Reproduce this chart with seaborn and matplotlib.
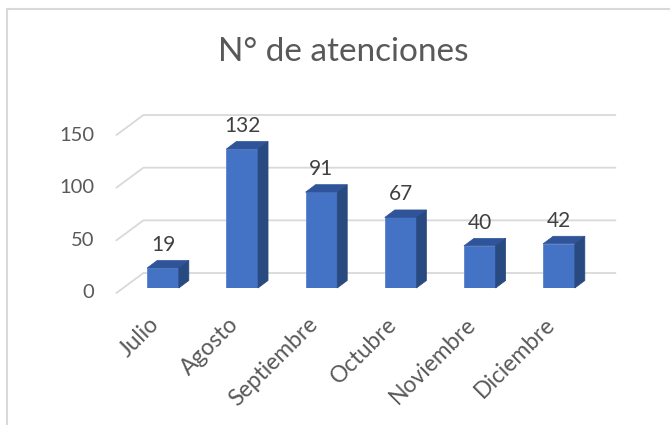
import numpy as np
import pandas as pd
import seaborn as sns
import matplotlib.pyplot as plt
from matplotlib.patches import Polygon, Rectangle

meses = ['Julio', 'Agosto', 'Septiembre', 'Octubre', 'Noviembre', 'Diciembre']
atenciones = [19, 132, 91, 67, 40, 42]
ticks_y = [0, 50, 100, 150]
titulo = 'N° de atenciones'

df = pd.DataFrame({'mes': meses, 'atenciones': atenciones})

sns.set_style('white')
plt.rcParams['font.family'] = ['Lato', 'DejaVu Sans']

fig = plt.figure(figsize=(6.7, 4.25), dpi=100)
ax = fig.add_axes([123.4 / 670, (425 - 288) / 425, 475.2 / 670, 168.5 / 425])

frente = '#4472C4'
techo = '#30549A'
lado = '#294A80'
gris = '#595959'

sns.barplot(data=df, x='mes', y='atenciones', color=frente, width=0.40,
            saturation=1, ax=ax, zorder=3, edgecolor='#5B84CC', linewidth=0.6)
ax.set_xlim(-0.5, 5.5)
ax.set_ylim(0, 160)
ax.axis('off')

# pixels -> data units
bb = ax.get_window_extent()
ppx = bb.width / 6.0
ppy = bb.height / 160.0

def off(dx, dy):
    return dx / ppx, dy / ppy

# wall / floor geometry (pixel offsets from bar front plane)
fx, fy = off(-7, -5)
bx, by = off(20, 15)
x_izq = -0.5
x_der = 5.46

for v in ticks_y:
    ax.plot([x_izq + fx, x_izq + bx, x_der + bx], [v + fy, v + by, v + by],
            color='#D9D9D9', lw=1.3, zorder=1, clip_on=False)
    ax.text(x_izq + fx - 22 / ppx, v + fy, str(v), ha='right', va='center',
            fontsize=14.5, color=gris, clip_on=False)

# 3D faces of the bars
ddx, ddy = off(10, 7.5)
for p in ax.patches:
    x0 = p.get_x()
    x1 = x0 + p.get_width()
    h = p.get_height()
    ax.add_patch(Polygon([(x0, h), (x1, h), (x1 + ddx, h + ddy), (x0 + ddx, h + ddy)],
                         closed=True, facecolor=techo, edgecolor=techo, lw=0.5,
                         zorder=3, clip_on=False))
    ax.add_patch(Polygon([(x1, 0), (x1, h), (x1 + ddx, h + ddy), (x1 + ddx, ddy)],
                         closed=True, facecolor=lado, edgecolor=lado, lw=0.5,
                         zorder=3, clip_on=False))
    ax.text(x0 + p.get_width() / 2, h + 23 / ppy, f'{h:.0f}', ha='center',
            va='center', fontsize=15, color='#404040', clip_on=False)

# rotated category labels
for i, m in enumerate(meses):
    ax.text(i - 7 / ppx, -33 / ppy, m, rotation=45, ha='right', va='center',
            rotation_mode='anchor', fontsize=16.5, color=gris, clip_on=False)

fig.text(343 / 670, 1 - 52 / 425, titulo, ha='center', va='center',
         fontsize=24, color=gris)

# chart border (cropped)
fig.patches.append(Rectangle((7 / 670, -0.1), 1.2, 1.1 - 9 / 425,
                             transform=fig.transFigure, fill=False,
                             edgecolor='#D9D9D9', lw=1.5))

fig.savefig('out.png', dpi=100)
